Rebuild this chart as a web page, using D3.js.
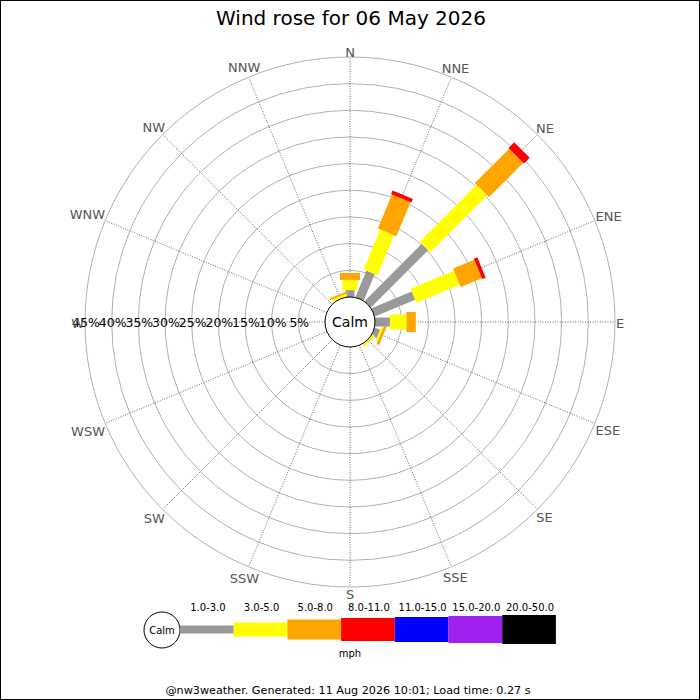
<!DOCTYPE html>
<html><head><meta charset="utf-8">
<script src="https://cdn.jsdelivr.net/npm/d3@7"></script>
<style>body{margin:0;background:#fff}svg{display:block;font-family:"DejaVu Sans",sans-serif}</style>
</head><body><svg id="c" width="700" height="700"></svg>
<script>
const titleText = "Wind rose for 06 May 2026";
const footerText = "@nw3weather. Generated: 11 Aug 2026 10:01; Load time: 0.27 s";
const directions = ["N","NNE","NE","ENE","E","ESE","SE","SSE","S","SSW","SW","WSW","W","WNW","NW","NNW"];
const speedBands = ["1.0-3.0","3.0-5.0","5.0-8.0","8.0-11.0","11.0-15.0","15.0-20.0","20.0-50.0"];
const bandColors = ["#999999","#ffff00","#ffa500","#ff0000","#0000ff","#a020f0","#000000"];
const ringTicks = [5,10,15,20,25,30,35,40,45];
// percent of time per direction for each speed band
const band1 = [1.3, 5.4, 15.2, 8.2, 2.8, 1.1, 0,   0, 0, 0, 0, 0, 0, 0, 0, 0];
const band2 = [1.9, 8.1, 15.1, 8.8, 3.1, 0.4, 0.5, 0, 0, 0, 0, 0, 0, 0, 0, 0.5];
const band3 = [1.3, 6.9, 9.1,  4.3, 1.75,0.5, 0,   0, 0, 0, 0, 0, 0, 0, 0, 0.35];
const band4 = [0,   0.75,1.5,  0.7, 0,   0,   0,   0, 0, 0, 0, 0, 0, 0, 0, 0];
const band5 = new Array(16).fill(0);
const band6 = new Array(16).fill(0);
const band7 = new Array(16).fill(0);
const bands = [band1,band2,band3,band4,band5,band6,band7];

const svg = d3.select("#c");
const W = 700, H = 700, cx = 350, cy = 322;
const calmR = 25;
const r = d3.scaleLinear().domain([0,45]).range([calmR,265]);
const ang = d3.scalePoint().domain(directions.concat(["_"])).range([0,360]);
const barW = [9,15,20,22,24,26,28];
const legH = [8,14,20,23,25,27,29];

svg.append("rect").attr("width",W).attr("height",H).attr("fill","#fff");

// title
svg.append("text").attr("x",351).attr("y",25).attr("text-anchor","middle")
  .attr("font-size",20).attr("fill","#000").text(titleText);

const g = svg.append("g").attr("transform",`translate(${cx},${cy})`);

// rings
g.selectAll("circle.ring").data(ringTicks).join("circle").attr("class","ring")
  .attr("r",d=>r(d)).attr("fill","none").attr("stroke","#b0b0b0").attr("stroke-width",1);

// radial dotted lines
g.selectAll("line.spoke").data(directions).join("line").attr("class","spoke")
  .attr("x1",d=>calmR*Math.sin(ang(d)*Math.PI/180))
  .attr("y1",d=>-calmR*Math.cos(ang(d)*Math.PI/180))
  .attr("x2",d=>r(45)*Math.sin(ang(d)*Math.PI/180))
  .attr("y2",d=>-r(45)*Math.cos(ang(d)*Math.PI/180))
  .attr("stroke","#444").attr("stroke-width",0.8).attr("stroke-dasharray","1,1.5");

// bars
const segs = [];
directions.forEach((d,i)=>{
  let cum = 0;
  bands.forEach((b,k)=>{
    const v = b[i];
    if (v>0){ segs.push({dir:d,k,v0:cum,v1:cum+v}); cum+=v; }
  });
});
g.selectAll("g.bar").data(segs).join("g").attr("class","bar")
  .attr("transform",s=>`rotate(${ang(s.dir)})`)
  .append("rect")
  .attr("x",s=>-barW[s.k]/2).attr("width",s=>barW[s.k])
  .attr("y",s=>-r(s.v1)).attr("height",s=>r(s.v1)-r(s.v0))
  .attr("fill",s=>bandColors[s.k]);

// calm circle
g.append("circle").attr("r",calmR).attr("fill","#fff").attr("stroke","#000").attr("stroke-width",1);
g.append("text").attr("y",5).attr("text-anchor","middle").attr("font-size",14).attr("fill","#000").text("Calm");

// ring labels
g.selectAll("text.rl").data(ringTicks).join("text").attr("class","rl")
  .attr("x",d=>-r(d)+1).attr("y",4.5).attr("text-anchor","middle")
  .attr("font-size",12.5).attr("fill","#000").text(d=>d+"%");

// direction labels
const capH = 9.5, R0 = 266;
g.selectAll("text.dl").data(directions).join("text").attr("class","dl")
  .attr("text-anchor","middle").attr("font-size",13).attr("fill","#555").text(d=>d)
  .each(function(d){
    const w = this.getComputedTextLength();
    const t = ang(d)*Math.PI/180;
    const dist = R0 + (w/2)*Math.abs(Math.sin(t)) + (capH/2)*Math.abs(Math.cos(t));
    d3.select(this).attr("x",dist*Math.sin(t)).attr("y",-dist*Math.cos(t)+capH/2+1);
  });

// legend
const lg = svg.append("g");
const lx0 = 180, lstep = 53.7, lcy = 629.5;
lg.append("circle").attr("cx",162).attr("cy",630).attr("r",18).attr("fill","#fff").attr("stroke","#000");
lg.append("text").attr("x",162).attr("y",633.5).attr("text-anchor","middle").attr("font-size",10).text("Calm");
lg.selectAll("rect.lb").data(speedBands).join("rect").attr("class","lb")
  .attr("x",(d,i)=>lx0+i*lstep).attr("width",lstep)
  .attr("y",(d,i)=>lcy-legH[i]/2).attr("height",(d,i)=>legH[i])
  .attr("fill",(d,i)=>bandColors[i]);
lg.selectAll("text.lt").data(speedBands).join("text").attr("class","lt")
  .attr("x",(d,i)=>lx0+(i+0.5)*lstep+1).attr("y",611).attr("text-anchor","middle")
  .attr("font-size",10).attr("fill","#000").text(d=>d);
lg.append("text").attr("x",350).attr("y",657).attr("text-anchor","middle").attr("font-size",10).text("mph");

// footer
svg.append("text").attr("x",348).attr("y",694).attr("text-anchor","middle")
  .attr("font-size",11.2).attr("fill","#000").text(footerText);

// frame
svg.append("rect").attr("x",0.5).attr("y",0.5).attr("width",699).attr("height",699)
  .attr("fill","none").attr("stroke","#000").attr("stroke-width",1);
</script></body></html>
